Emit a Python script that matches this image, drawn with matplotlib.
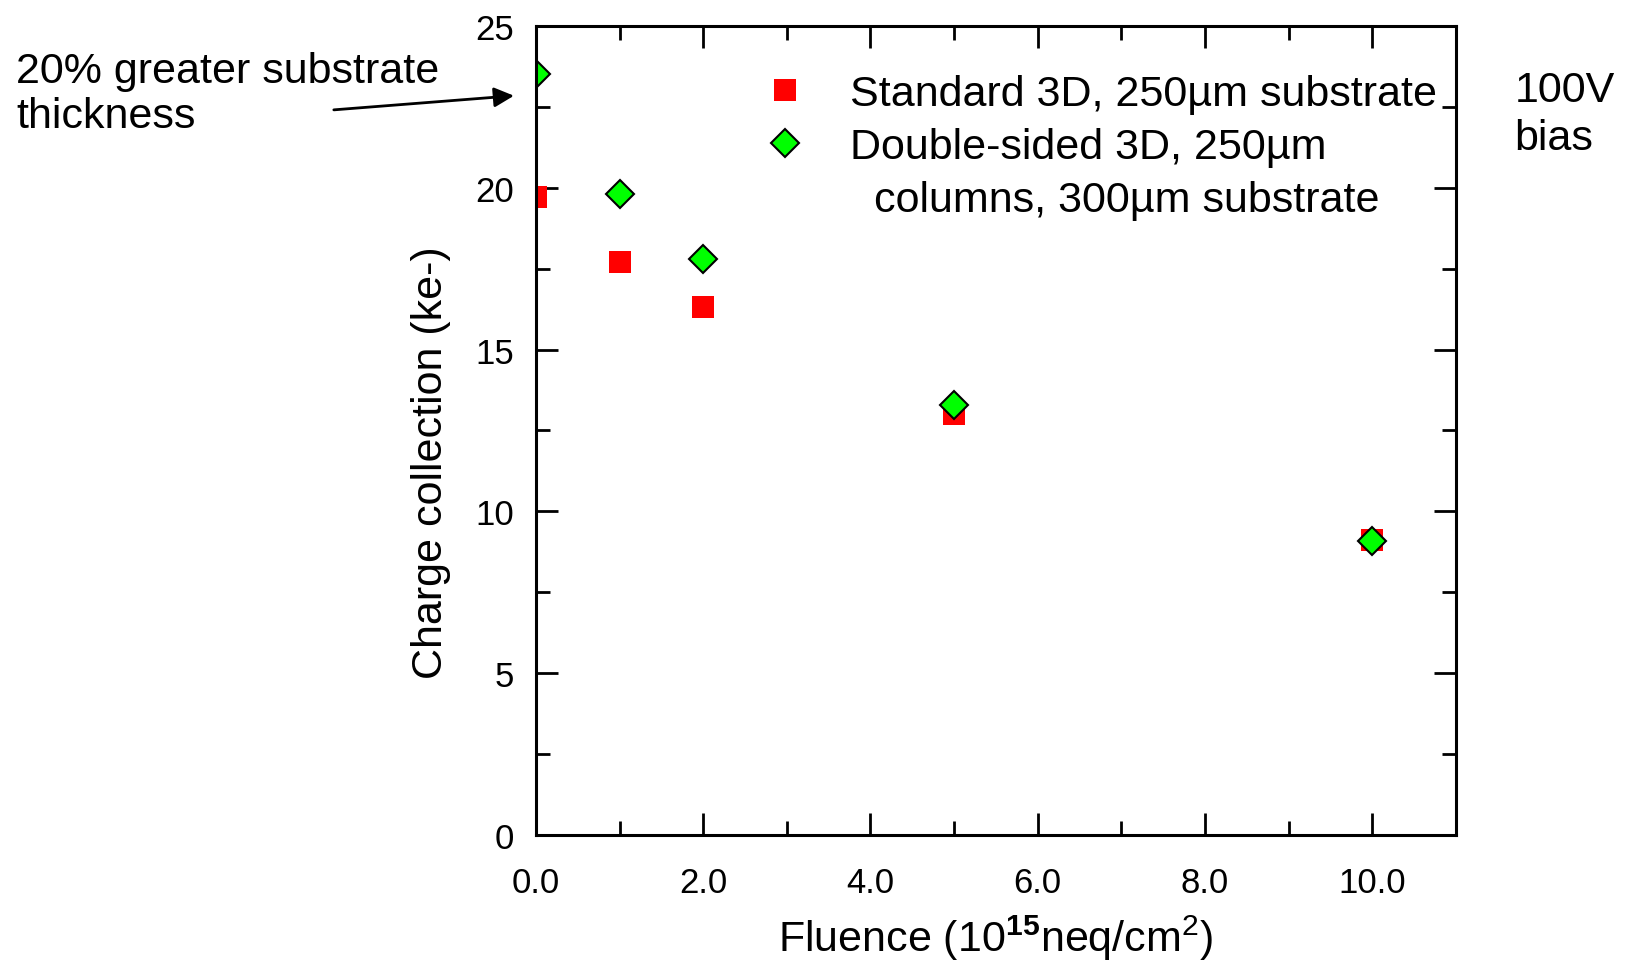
import matplotlib
matplotlib.use("Agg")
import matplotlib.pyplot as plt
from matplotlib.lines import Line2D
from matplotlib.ticker import MultipleLocator, FormatStrFormatter

plt.rcParams['font.family'] = ['Liberation Sans', 'DejaVu Sans']
plt.rcParams['mathtext.fontset'] = 'custom'
plt.rcParams['mathtext.rm'] = 'Liberation Sans'
plt.rcParams['mathtext.bf'] = 'Liberation Sans:bold'

# 数据
fluence = [0, 1, 2, 5, 10]
standard_3d = [19.7, 17.7, 16.3, 13.0, 9.1]
double_sided_3d = [23.5, 19.8, 17.8, 13.3, 9.07]

label_std = "Standard 3D, 250\u00b5m substrate"
label_ds = "Double-sided 3D, 250\u00b5m"
label_ds2 = "  columns, 300\u00b5m substrate"

fig = plt.figure(figsize=(16.32, 9.62), dpi=100)
ax = fig.add_axes([0.3284, 0.131, 0.5637, 0.841])

ax.plot(fluence, standard_3d, linestyle='none', marker='s', markersize=16,
        color='#ff0000', markeredgewidth=0)
ax.plot(fluence, double_sided_3d, linestyle='none', marker='D', markersize=14.5,
        markerfacecolor='#00ff00', markeredgecolor='black', markeredgewidth=1.5)

ax.set_xlim(0, 11)
ax.set_ylim(0, 25)
ax.xaxis.set_major_locator(MultipleLocator(2))
ax.xaxis.set_minor_locator(MultipleLocator(1))
ax.yaxis.set_major_locator(MultipleLocator(5))
ax.yaxis.set_minor_locator(MultipleLocator(2.5))
ax.xaxis.set_major_formatter(FormatStrFormatter('%.1f'))

for s in ax.spines.values():
    s.set_linewidth(2.2)
ax.tick_params(which='both', direction='in', top=True, right=True, width=2)
ax.tick_params(which='major', length=16, labelsize=25)
ax.tick_params(axis='x', which='major', pad=22)
ax.tick_params(axis='y', which='major', pad=16)
ax.tick_params(which='minor', length=10)

ax.set_xlabel("Fluence (10$^{\\mathbf{15}}$neq/cm$^{2}$)", fontsize=31, labelpad=10)
ax.set_ylabel("Charge collection (ke-)", fontsize=31, labelpad=17)
ax.yaxis.label.set_y(0.462)

# 图例
h_std = Line2D([], [], linestyle='none', marker='s', markersize=16,
               color='#ff0000', markeredgewidth=0)
h_ds = Line2D([], [], linestyle='none', marker='D', markersize=14.5,
              markerfacecolor='#00ff00', markeredgecolor='black', markeredgewidth=1.5)
h_blank = Line2D([], [], linestyle='none')
ax.legend([h_std, h_ds, h_blank], [label_std, label_ds, label_ds2],
          loc='upper left', bbox_to_anchor=(0.2145, 0.978), frameon=False,
          fontsize=31, handlelength=1.0, handletextpad=1.0, labelspacing=0.3,
          borderpad=0.2)

fig.text(0.928, 0.8805, "100V\nbias", fontsize=31, ha='left', va='center',
         linespacing=1.25)

# 注释
fig.text(0.01, 0.902, "20% greater substrate\nthickness", fontsize=31,
         ha='left', va='center', linespacing=1.15)
ax.annotate("", xy=(-0.23, 22.85), xytext=(-2.45, 22.4),
            arrowprops=dict(arrowstyle='-|>', color='black', lw=2,
                            mutation_scale=30),
            annotation_clip=False)

fig.savefig("out.png", dpi=100)
